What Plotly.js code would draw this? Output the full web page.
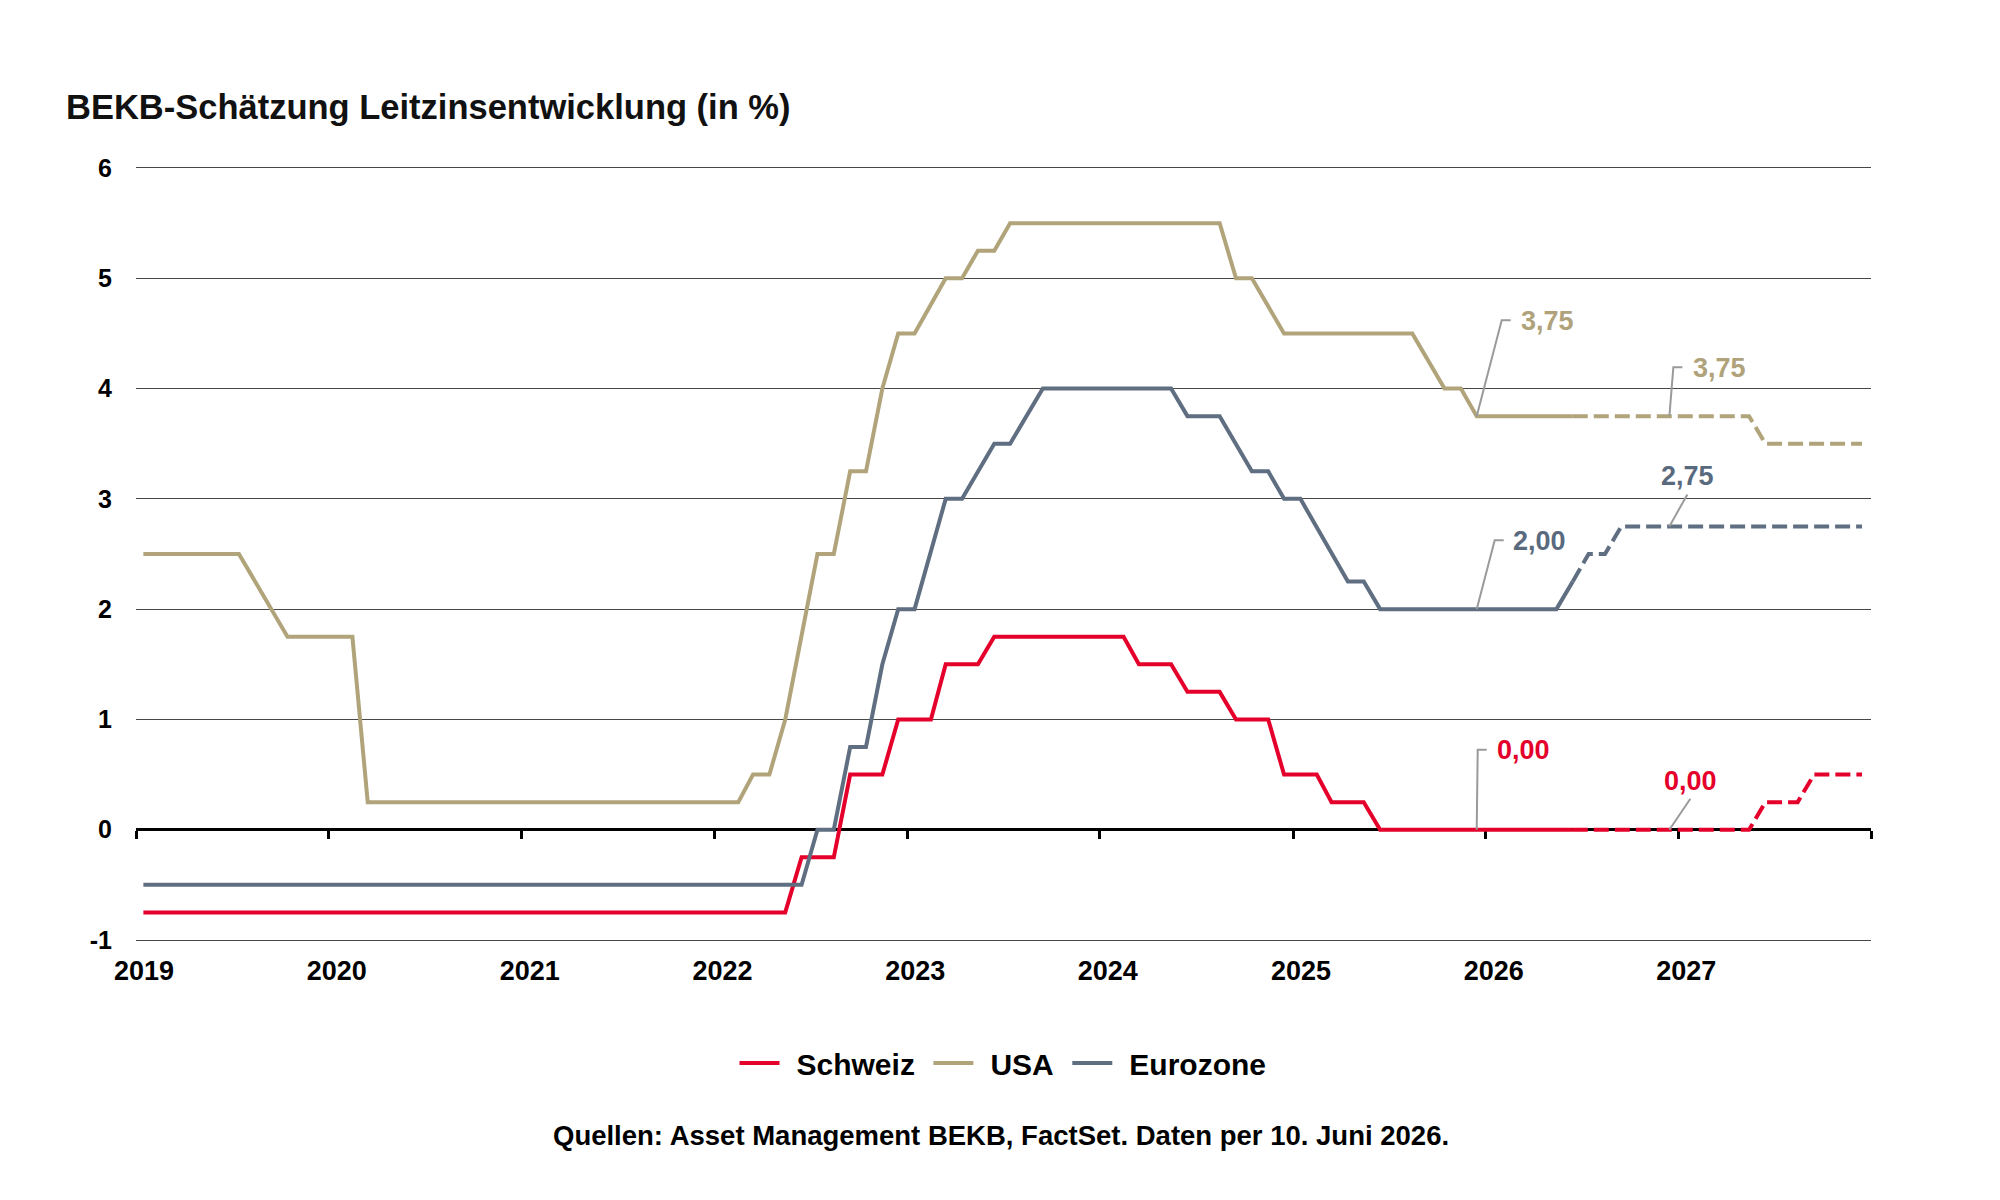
<!DOCTYPE html>
<html>
<head>
<meta charset="utf-8">
<script src="https://cdn.plot.ly/plotly-3.0.1.min.js"></script>
<style>
html,body{margin:0;padding:0;background:#ffffff;}
#chart{width:2000px;height:1200px;}
</style>
</head>
<body>
<div id="chart"></div>
<script>
// ---------- data ----------
const seriesNames = ['Schweiz', 'USA', 'Eurozone'];

// Schweiz (SNB) – actual
const chDates = ['2019-01-15','2022-05-15','2022-06-15','2022-08-15','2022-09-15','2022-11-15','2022-12-15',
  '2023-02-15','2023-03-15','2023-05-15','2023-06-15','2024-02-15','2024-03-15','2024-05-15','2024-06-15',
  '2024-08-15','2024-09-15','2024-11-15','2024-12-15','2025-02-15','2025-03-15','2025-05-15','2025-06-15','2026-06-15'];
const chValues = [-0.75,-0.75,-0.25,-0.25,0.5,0.5,1.0,1.0,1.5,1.5,1.75,1.75,1.5,1.5,1.25,1.25,1.0,1.0,0.5,0.5,0.25,0.25,0,0];
// Schweiz – forecast
const chFcDates = ['2026-06-15','2027-05-15','2027-06-15','2027-08-15','2027-09-15','2027-12-15'];
const chFcValues = [0,0,0.25,0.25,0.5,0.5];

// USA (Fed) – actual
const usDates = ['2019-01-15','2019-07-15','2019-10-15','2020-02-15','2020-03-15','2022-02-15','2022-03-15',
  '2022-04-15','2022-05-15','2022-07-15','2022-08-15','2022-09-15','2022-10-15','2022-11-15','2022-12-15',
  '2023-01-15','2023-03-15','2023-04-15','2023-05-15','2023-06-15','2023-07-15','2024-08-15','2024-09-15',
  '2024-10-15','2024-12-15','2025-08-15','2025-10-15','2025-11-15','2025-12-15','2026-06-15'];
const usValues = [2.5,2.5,1.75,1.75,0.25,0.25,0.5,0.5,1.0,2.5,2.5,3.25,3.25,4.0,4.5,4.5,5.0,5.0,5.25,5.25,5.5,
  5.5,5.0,5.0,4.5,4.5,4.0,4.0,3.75,3.75];
// USA – forecast
const usFcDates = ['2026-06-15','2027-05-15','2027-06-15','2027-12-15'];
const usFcValues = [3.75,3.75,3.5,3.5];

// Eurozone (EZB) – actual
const euDates = ['2019-01-15','2022-06-15','2022-07-15','2022-08-15','2022-09-15','2022-10-15','2022-11-15',
  '2022-12-15','2023-01-15','2023-03-15','2023-04-15','2023-06-15','2023-07-15','2023-09-15','2024-05-15',
  '2024-06-15','2024-08-15','2024-10-15','2024-11-15','2024-12-15','2025-01-15','2025-04-15','2025-05-15',
  '2025-06-15','2026-05-15','2026-06-15'];
const euValues = [-0.5,-0.5,0,0,0.75,0.75,1.5,2.0,2.0,3.0,3.0,3.5,3.5,4.0,4.0,3.75,3.75,3.25,3.25,3.0,3.0,
  2.25,2.25,2.0,2.0,2.25];
// Eurozone – forecast
const euFcDates = ['2026-06-15','2026-07-15','2026-08-15','2026-09-15','2027-12-15'];
const euFcValues = [2.25,2.5,2.5,2.75,2.75];

// labelled points
const noteSeries = ['USA','USA','Eurozone','Eurozone','Schweiz','Schweiz'];
const noteDates  = ['2025-12-15','2026-12-15','2025-12-15','2026-12-15','2025-12-15','2026-12-15'];
const noteValues = [3.75,3.75,2.00,2.75,0.00,0.00];
const noteLabels = ['3,75','3,75','2,00','2,75','0,00','0,00'];

// axis ticks
const yearTickDates  = ['2019-01-01','2020-01-01','2021-01-01','2022-01-01','2023-01-01','2024-01-01','2025-01-01','2026-01-01','2027-01-01'];
const yearTickLabels = ['2019','2020','2021','2022','2023','2024','2025','2026','2027'];
const zeroTickDates  = yearTickDates.concat(['2028-01-01']);
const xRange = ['2019-01-01','2028-01-01'];
const yRange = [-1, 6];
const yTickVals = [-1, 0, 1, 2, 3, 4, 5, 6];
const yTickLabels = ['-1', '0', '1', '2', '3', '4', '5', '6'];

const titleText  = 'BEKB-Schätzung Leitzinsentwicklung (in %)';
const sourceText = 'Quellen: Asset Management BEKB, FactSet. Daten per 10. Juni 2026.';

// ---------- styles ----------
const FONT = 'Liberation Sans, Arial, sans-serif';
const colors = {Schweiz: '#e4002b', USA: '#b1a47b', Eurozone: '#5f6e80'};
const textColors = {Schweiz: '#e4002b', USA: '#b0a27a', Eurozone: '#5a6a7e'};
const GRID = '#474747';
const LW = 4;
const DASH = '15px,6px';
const LEG_PRE = '\u2009\u2009';   // spacing between legend line and text
const LEG_POST = '\u2009\u200A';  // spacing after legend text

// leader-line geometry (pixel offsets from the labelled point, y up) and label placement
const noteStyle = [
  {path: 'M0,0L25,96L34,96',  xshift: 42, yshift: 95, xanchor: 'left'},
  {path: 'M0,0L4,49L13,49',   xshift: 22, yshift: 48, xanchor: 'left'},
  {path: 'M0,0L18,69L27,69',  xshift: 34, yshift: 68, xanchor: 'left'},
  {path: 'M0,0L18,32',        xshift: 18, yshift: 50, xanchor: 'center'},
  {path: 'M0,0L1,80L10,80',   xshift: 18, yshift: 80, xanchor: 'left'},
  {path: 'M0,0L21,31',        xshift: 21, yshift: 49, xanchor: 'center'}
];

// ---------- traces ----------
const actual = {Schweiz: [chDates, chValues], USA: [usDates, usValues], Eurozone: [euDates, euValues]};
const forecast = {Schweiz: [chFcDates, chFcValues], USA: [usFcDates, usFcValues], Eurozone: [euFcDates, euFcValues]};

const traces = [];
seriesNames.forEach(function(n){
  traces.push({
    type: 'scatter', mode: 'lines', name: LEG_PRE + n + LEG_POST,
    x: actual[n][0], y: actual[n][1],
    line: {color: colors[n], width: LW, shape: 'linear'},
    hoverinfo: 'skip', xaxis: 'x', yaxis: 'y'
  });
});
seriesNames.forEach(function(n){
  traces.push({
    type: 'scatter', mode: 'lines', name: n + ' Prognose', showlegend: false,
    x: forecast[n][0], y: forecast[n][1],
    line: {color: colors[n], width: LW, dash: DASH},
    hoverinfo: 'skip', xaxis: 'x2', yaxis: 'y'
  });
});

// ---------- annotations & leader lines ----------
const annotations = noteLabels.map(function(t, i){
  const st = noteStyle[i];
  return {
    xref: 'x', yref: 'y', x: noteDates[i], y: noteValues[i],
    text: t, showarrow: false,
    xanchor: st.xanchor, yanchor: 'middle',
    xshift: st.xshift, yshift: st.yshift,
    font: {family: FONT, size: 27, weight: 700, color: textColors[noteSeries[i]]}
  };
});
// source line below the legend (paper coords: plot area spans y 168..940 px)
annotations.push({
  xref: 'paper', yref: 'paper', x: 0.5, y: (940 - 1135) / 772,
  xanchor: 'center', yanchor: 'middle', xshift: -3, showarrow: false,
  text: sourceText,
  font: {family: FONT, size: 27.5, weight: 700, color: '#000000'}
});

const shapes = noteStyle.map(function(st, i){
  return {
    type: 'path', xref: 'x', yref: 'y',
    xsizemode: 'pixel', ysizemode: 'pixel',
    xanchor: noteDates[i], yanchor: noteValues[i],
    path: st.path,
    line: {color: '#9a9a9a', width: 2},
    layer: 'above'
  };
});

const layout = {
  width: 2000, height: 1200,
  paper_bgcolor: '#ffffff', plot_bgcolor: '#ffffff',
  margin: {l: 136, r: 129, t: 168, b: 260, pad: 0},
  font: {family: FONT, color: '#000000'},
  title: {
    text: titleText,
    xref: 'container', yref: 'container',
    x: 66/2000, xanchor: 'left',
    y: 1 - 107/1200, yanchor: 'middle',
    font: {family: FONT, size: 34.5, weight: 700, color: '#111111'}
  },
  showlegend: true,
  legend: {
    orientation: 'h', xref: 'container', yref: 'container',
    x: 0.5035, xanchor: 'center', y: 1 - 1063/1200, yanchor: 'middle',
    font: {family: FONT, size: 30, weight: 700, color: '#000000'},
    itemwidth: 40, traceorder: 'normal', bgcolor: 'rgba(0,0,0,0)'
  },
  xaxis: {
    type: 'date', range: xRange,
    tickmode: 'array', tickvals: yearTickDates, ticktext: yearTickLabels,
    showgrid: false, zeroline: false,
    showline: true, mirror: true, linecolor: GRID, linewidth: 1.2,
    ticks: '',
    ticklabelshift: 8, ticklabelstandoff: 6,
    tickfont: {family: FONT, size: 27, weight: 700, color: '#000000'},
    fixedrange: true
  },
  xaxis2: {
    type: 'date', range: xRange, overlaying: 'x', anchor: 'free',
    position: (0 - yRange[0]) / (yRange[1] - yRange[0]),
    tickmode: 'array', tickvals: zeroTickDates,
    showticklabels: false, showgrid: false, zeroline: false, showline: false,
    ticks: 'outside', ticklen: 8, tickwidth: 3, tickcolor: '#000000',
    layer: 'below traces', fixedrange: true
  },
  yaxis: {
    range: yRange, tickmode: 'array', tickvals: yTickVals, ticktext: yTickLabels,
    showgrid: true, gridcolor: GRID, gridwidth: 1.2,
    zeroline: true, zerolinecolor: '#000000', zerolinewidth: 3.5,
    showline: false, ticks: '', ticklabelstandoff: 23,
    tickfont: {family: FONT, size: 25, weight: 700, color: '#000000'},
    fixedrange: true
  },
  annotations: annotations,
  shapes: shapes
};

Plotly.newPlot('chart', traces, layout, {displayModeBar: false, staticPlot: true});
</script>
</body>
</html>
